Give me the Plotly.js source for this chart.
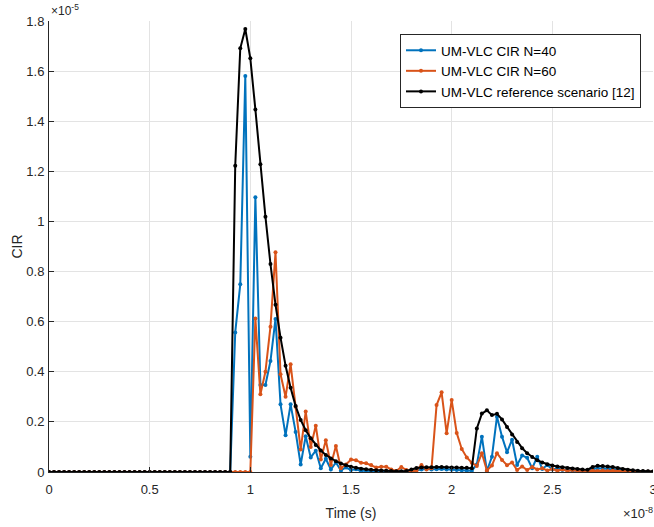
<!DOCTYPE html>
<html>
<head>
<meta charset="utf-8">
<script src="https://cdn.plot.ly/plotly-3.0.1.min.js"></script>
<style>
html,body{margin:0;padding:0;background:#fff;}
#chart{width:654px;height:527px;}
</style>
</head>
<body>
<div id="chart"></div>
<script>
// Time samples in ns (0 .. 30 ns, every 0.25 ns)
const timeNs = [
0,0.25,0.5,0.75,1,1.25,1.5,1.75,2,2.25,2.5,2.75,3,3.25,3.5,3.75,4,4.25,4.5,4.75,
5,5.25,5.5,5.75,6,6.25,6.5,6.75,7,7.25,7.5,7.75,8,8.25,8.5,8.75,9,9.25,9.5,9.75,
10,10.25,10.5,10.75,11,11.25,11.5,11.75,12,12.25,12.5,12.75,13,13.25,13.5,13.75,14,14.25,14.5,14.75,
15,15.25,15.5,15.75,16,16.25,16.5,16.75,17,17.25,17.5,17.75,18,18.25,18.5,18.75,19,19.25,19.5,19.75,
20,20.25,20.5,20.75,21,21.25,21.5,21.75,22,22.25,22.5,22.75,23,23.25,23.5,23.75,24,24.25,24.5,24.75,
25,25.25,25.5,25.75,26,26.25,26.5,26.75,27,27.25,27.5,27.75,28,28.25,28.5,28.75,29,29.25,29.5,29.75,30
];

// CIR values in units of 1e-5
const cirN40 = [
0,0,0,0,0,0,0,0,0,0,0,0,0,0,0,0,0,0,0,0,
0,0,0,0,0,0,0,0,0,0,0,0,0,0,0,0,0,0.557,0.749,1.580,
0.061,1.097,0.347,0.347,0.443,0.611,0.27,0.147,0.27,0.16,0.03,0.143,0.058,0.085,0.015,0.053,0.01,0.038,0.006,0.018,
0.008,0.011,0.004,0.006,0.003,0.004,0.002,0.002,0.001,0.002,0.001,0.002,0.004,0.008,0.01,0.012,0.01,0.011,0.012,0.01,
0.009,0.008,0.007,0.006,0.005,0.03,0.141,0.004,0.061,0.221,0.141,0.079,0.129,0.028,0.066,0.057,0.015,0.061,0.012,0.028,
0.01,0.015,0.008,0.01,0.006,0.007,0.005,0.004,0.012,0.015,0.014,0.013,0.011,0.009,0.007,0.005,0.004,0.003,0.002,0.002,0.001
];

const cirN60 = [
0,0,0,0,0,0,0,0,0,0,0,0,0,0,0,0,0,0,0,0,
0,0,0,0,0,0,0,0,0,0,0,0,0,0,0,0,0,0,0,0,
0,0.613,0.310,0.400,0.580,0.877,0.390,0.300,0.430,0.26,0.09,0.241,0.10,0.185,0.05,0.127,0.028,0.104,0.015,0.03,
0.05,0.047,0.037,0.035,0.028,0.018,0.021,0.021,0.01,0.004,0.02,0.008,0.002,0.006,0.028,0.01,0.015,0.267,0.318,0.155,
0.287,0.156,0.092,0.058,0.037,0.024,0.075,0.006,0.026,0.075,0.048,0.027,0.038,0.008,0.022,0.008,0.02,0.01,0.015,0.006,
0.012,0.005,0.01,0.004,0.008,0.004,0.006,0.003,0.005,0.004,0.006,0.004,0.005,0.003,0.004,0.003,0.003,0.002,0.002,0.002,0.001
];

const cirRef = [
0,0,0,0,0,0,0,0,0,0,0,0,0,0,0,0,0,0,0,0,
0,0,0,0,0,0,0,0,0,0,0,0,0,0,0,0,0,1.222,1.691,1.768,
1.651,1.447,1.228,1.019,0.830,0.668,0.536,0.424,0.336,0.263,0.208,0.167,0.135,0.108,0.086,0.068,0.054,0.043,0.034,0.027,
0.021,0.017,0.013,0.011,0.009,0.007,0.006,0.005,0.004,0.003,0.003,0.004,0.01,0.016,0.018,0.019,0.019,0.02,0.02,0.019,
0.018,0.018,0.017,0.017,0.015,0.174,0.233,0.246,0.227,0.232,0.21,0.18,0.15,0.12,0.095,0.075,0.06,0.047,0.038,0.031,
0.026,0.022,0.019,0.016,0.014,0.012,0.01,0.009,0.02,0.025,0.024,0.022,0.02,0.016,0.012,0.009,0.007,0.005,0.004,0.003,0.002
];

const seriesNames = ['UM-VLC CIR N=40', 'UM-VLC CIR N=60', 'UM-VLC reference scenario [12]'];
const seriesColors = ['#0072BD', '#D95319', '#000000'];
const xTickVals = [0, 0.5, 1, 1.5, 2, 2.5, 3];
const xTickText = ['0', '0.5', '1', '1.5', '2', '2.5', '3'];
const yTickVals = [0, 0.2, 0.4, 0.6, 0.8, 1, 1.2, 1.4, 1.6, 1.8];
const yTickText = ['0', '0.2', '0.4', '0.6', '0.8', '1', '1.2', '1.4', '1.6', '1.8'];

// x in units of 1e-8 s
const xUnits = timeNs.map(t => t / 10);
const ySeries = [cirN40, cirN60, cirRef];

const traces = ySeries.map((ys, k) => ({
  type: 'scatter',
  mode: 'lines+markers',
  x: xUnits,
  y: ys,
  name: seriesNames[k],
  line: {color: seriesColors[k], width: 2},
  marker: {color: seriesColors[k], size: 4, symbol: 'circle'}
}));

const font = {family: '"Liberation Sans", Arial, Helvetica, sans-serif', size: 13, color: '#262626'};

const layout = {
  width: 654, height: 527,
  margin: {l: 49, r: 1, t: 21, b: 55, autoexpand: false},
  paper_bgcolor: '#ffffff',
  plot_bgcolor: '#ffffff',
  font: font,
  showlegend: true,
  legend: {
    x: (641 - 49) / 604, y: (472 - 34) / 451, xanchor: 'right', yanchor: 'top',
    bgcolor: '#ffffff', bordercolor: '#262626', borderwidth: 1,
    font: {family: font.family, size: 13.5, color: '#000000'},
    itemwidth: 30, tracegroupgap: 0
  },
  xaxis: {
    range: [0, 3], tickvals: xTickVals, ticktext: xTickText,
    automargin: false,
    ticklabeloverflow: 'allow',
    showgrid: true, gridcolor: '#e3e3e3', gridwidth: 1,
    zeroline: false, showline: true, linecolor: '#262626', linewidth: 1,
    ticks: 'inside', ticklen: 5, tickcolor: '#262626',
    ticklabelstandoff: 5,
    tickfont: font,
    title: {text: 'Time (s)', font: {family: font.family, size: 14, color: '#262626'}, standoff: 12}
  },
  yaxis: {
    range: [0, 1.8], tickvals: yTickVals, ticktext: yTickText,
    automargin: false,
    showgrid: true, gridcolor: '#e3e3e3', gridwidth: 1,
    zeroline: false, showline: true, linecolor: '#262626', linewidth: 1,
    ticks: 'inside', ticklen: 5, tickcolor: '#262626',
    ticklabelstandoff: 1,
    tickfont: font,
    title: {text: 'CIR', font: {family: font.family, size: 14, color: '#262626'}, standoff: 0}
  },
  annotations: [
    {xref: 'paper', yref: 'paper', x: 0, y: 1, xanchor: 'left', yanchor: 'bottom',
     xshift: 0, yshift: 1, showarrow: false,
     text: '×10<sup>-5</sup>', font: {family: font.family, size: 12, color: '#262626'}},
    {xref: 'paper', yref: 'paper', x: 1, y: 0, xanchor: 'right', yanchor: 'top',
     yshift: -31, xshift: 2, showarrow: false,
     text: '×10<sup>-8</sup>', font: {family: font.family, size: 13, color: '#262626'}}
  ]
};

Plotly.newPlot('chart', traces, layout, {displayModeBar: false, staticPlot: true});
</script>
</body>
</html>
